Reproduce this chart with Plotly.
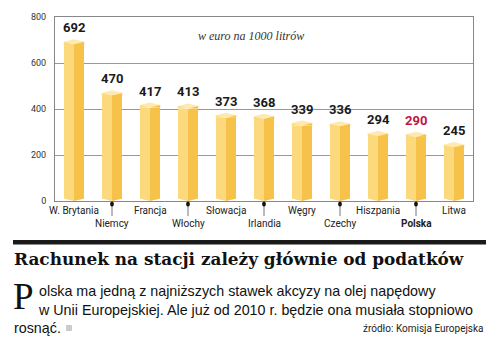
import plotly.graph_objects as go

countries = ["W. Brytania", "Niemcy", "Francja", "Włochy", "Słowacja", "Irlandia",
             "Węgry", "Czechy", "Hiszpania", "Polska", "Litwa"]
values = [692, 470, 417, 413, 373, 368, 339, 336, 294, 290, 245]
y_ticks = [0, 200, 400, 600, 800]

title_text = "Rachunek na stacji zależy głównie od podatków"
subtitle_text = "w euro na 1000 litrów"
body_line1 = "olska ma jedną z najniższych stawek akcyzy na olej napędowy"
body_line2 = "w Unii Europejskiej. Ale już od 2010 r. będzie ona musiała stopniowo"
body_line3 = "rosnąć."
source_text = "źródło: Komisja Europejska"

W, H = 500, 346
L, R, T, B = 55, 27, 17, 145
PW, PH = W - L - R, H - T - B


def px(x):
    return (x - L) / PW


def py(y):
    return (H - B - y) / PH


xs = list(range(len(countries)))
half = 0.27
d = 11  # perspective depth in data units

LEFT_C = "#FCD97C"
RIGHT_C = "#F6C24A"
CAP_C = "#FEE9AE"

fig = go.Figure()
fig.add_trace(go.Bar(x=xs, y=[v - d for v in values], width=half, offset=-half,
                     marker=dict(color=LEFT_C, line=dict(width=0)), hoverinfo="skip"))
fig.add_trace(go.Bar(x=xs, y=[v - d for v in values], width=half, offset=0,
                     marker=dict(color=RIGHT_C, line=dict(width=0)), hoverinfo="skip"))

cx, cy = [], []
for x, v in zip(xs, values):
    cx += [x - half, x, x + half, x, x - half, None]
    cy += [v, v - d, v, v + d, v, None]
fig.add_trace(go.Scatter(x=cx, y=cy, fill="toself", fillcolor=CAP_C, mode="lines",
                         line=dict(width=0, color=CAP_C), hoverinfo="skip"))
lx, ly, rx, ry = [], [], [], []
for x, v in zip(xs, values):
    lx += [x - half, x, x - half, x - half, None]
    ly += [v - d - 0.5, v - d, v, v - d - 0.5, None]
    rx += [x, x + half, x + half, x, None]
    ry += [v - d, v - d - 0.5, v, v - d, None]
fig.add_trace(go.Scatter(x=lx, y=ly, fill="toself", fillcolor=LEFT_C, mode="lines",
                         line=dict(width=0, color=LEFT_C), hoverinfo="skip"))
fig.add_trace(go.Scatter(x=rx, y=ry, fill="toself", fillcolor=RIGHT_C, mode="lines",
                         line=dict(width=0, color=RIGHT_C), hoverinfo="skip"))
bx, by = [], []
for x in xs:
    bx += [x - half - 0.01, x - half - 0.01, x, x + half + 0.01, x + half + 0.01, x - half - 0.01, None]
    by += [0, d, 0, d, 0, 0, None]
fig.add_trace(go.Scatter(x=bx, y=by, fill="toself", fillcolor="white", mode="lines",
                         line=dict(width=0, color="white"), hoverinfo="skip"))

annotations = []
for i, (c, v) in enumerate(zip(countries, values)):
    annotations.append(dict(x=i, y=v + d, xref="x", yref="y", text=f"<b>{v}</b>",
                            showarrow=False, yanchor="bottom", yshift=2,
                            font=dict(family="Roboto", size=13,
                                      color="#C0163F" if c == "Polska" else "#1a1a1a")))
    odd = i % 2 == 1
    label = f"<b>{c}</b>" if c == "Polska" else c
    annotations.append(dict(x=i, y=py(223 if odd else 210), xref="x", yref="paper",
                            text=label, showarrow=False, yanchor="middle",
                            font=dict(family="Roboto", size=10, color="#222")))

shapes = []
for i in xs:
    if i % 2 == 1:
        shapes.append(dict(type="line", xref="x", yref="paper", x0=i, x1=i,
                           y0=py(204), y1=py(216), line=dict(color="#777", width=1)))
        shapes.append(dict(type="circle", xref="x", yref="paper",
                           x0=i - 0.05, x1=i + 0.05, y0=py(206.5), y1=py(201.5),
                           fillcolor="#111", line=dict(width=0)))

shapes.append(dict(type="rect", xref="paper", yref="paper", x0=px(13), x1=px(486),
                   y0=py(244.5), y1=py(240), fillcolor="#1a1a1a", line=dict(width=0)))
shapes.append(dict(type="rect", xref="paper", yref="paper", x0=px(66), x1=px(72),
                   y0=py(331), y1=py(325), fillcolor="#cccccc", line=dict(width=0)))

annotations += [
    dict(x=px(251), y=py(27), xref="paper", yref="paper", text=f"<i>{subtitle_text}</i>",
         showarrow=False, font=dict(family="Liberation Serif", size=12, color="#333")),
    dict(x=px(12), y=py(259), xref="paper", yref="paper", text=f"<b>{title_text}</b>",
         showarrow=False, xanchor="left", yanchor="middle",
         font=dict(family="DejaVu Serif", size=16.9, color="#111")),
    dict(x=px(11), y=py(296), xref="paper", yref="paper", text="P",
         showarrow=False, xanchor="left", yanchor="middle",
         font=dict(family="Liberation Serif", size=37, color="#111")),
    dict(x=px(36), y=py(300), xref="paper", yref="paper",
         text=body_line1 + "<br>" + body_line2, align="left",
         showarrow=False, xanchor="left", yanchor="middle",
         font=dict(family="Liberation Sans", size=14.3, color="#111")),
    dict(x=px(12), y=py(328), xref="paper", yref="paper", text=body_line3,
         showarrow=False, xanchor="left", yanchor="middle",
         font=dict(family="Liberation Sans", size=14.3, color="#111")),
    dict(x=px(486), y=py(328), xref="paper", yref="paper", text=source_text,
         showarrow=False, xanchor="right", yanchor="middle",
         font=dict(family="Roboto", size=10, color="#222")),
]

fig.update_layout(
    width=W, height=H, margin=dict(l=L, r=R, t=T, b=B),
    paper_bgcolor="white", plot_bgcolor="white", showlegend=False,
    barmode="overlay", bargap=0,
    xaxis=dict(range=[-0.5, 10.5], showticklabels=False, showgrid=False, zeroline=False,
               ticks="", showline=True, linecolor="#888", mirror=True, fixedrange=True),
    yaxis=dict(range=[0, 800], tickvals=y_ticks, showgrid=True, gridcolor="#999",
               gridwidth=1, zeroline=False, showline=True, linecolor="#888", mirror=True,
               ticks="", ticklabelstandoff=6,
               tickfont=dict(family="Roboto", size=9, color="#333")),
    annotations=annotations, shapes=shapes,
)

fig.write_html("out.html")
